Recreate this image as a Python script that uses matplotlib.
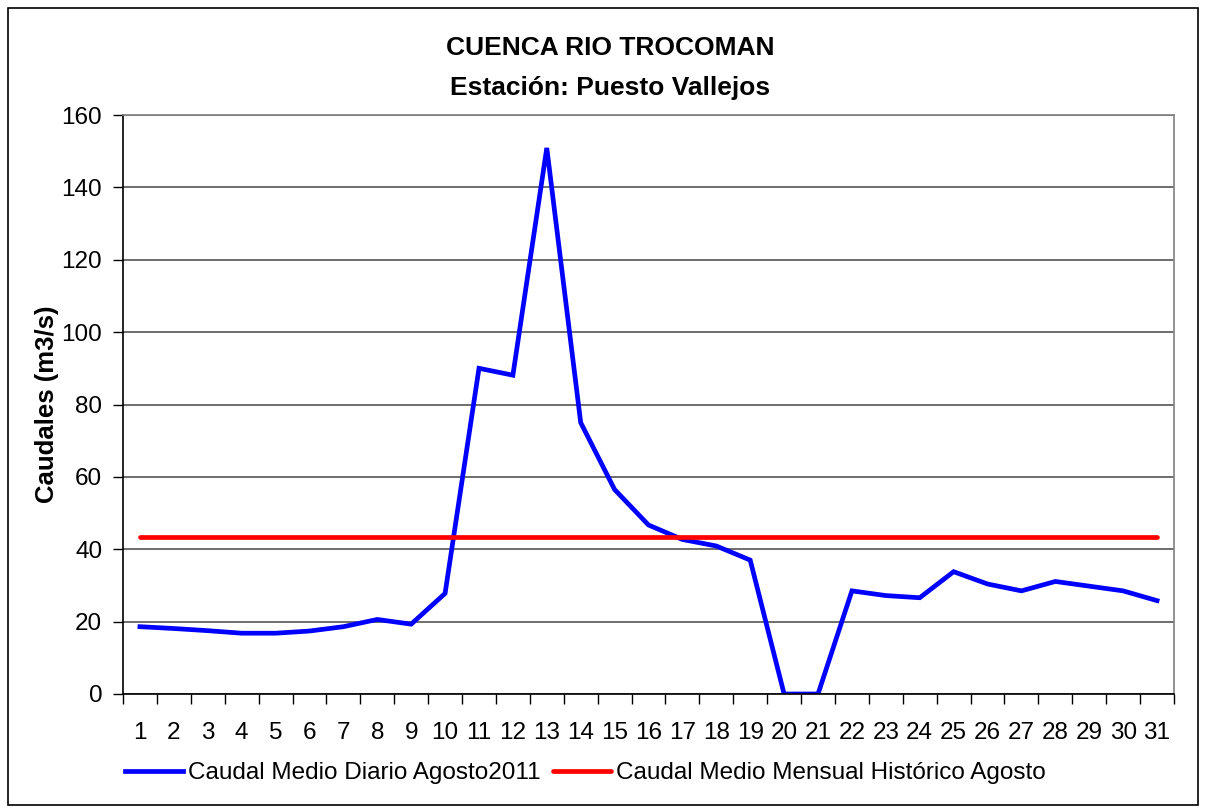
import matplotlib
matplotlib.use("Agg")
import matplotlib.pyplot as plt
from matplotlib.patches import Rectangle
import numpy as np

plt.rcParams['font.family'] = ['Liberation Sans', 'DejaVu Sans']

days = list(range(1, 32))
caudal_diario = [18.6, 18.1, 17.5, 16.8, 16.8, 17.4, 18.6, 20.6, 19.3, 27.8,
                 90.0, 88.1, 150.9, 75.0, 56.5, 46.7, 42.7, 40.9, 37.0, 0.0,
                 0.0, 28.5, 27.2, 26.6, 33.8, 30.4, 28.5, 31.1, 29.8, 28.5, 25.8]
caudal_historico = [43.5] * 31
yticks = [0, 20, 40, 60, 80, 100, 120, 140, 160]

fig = plt.figure(figsize=(12.05, 8.09), dpi=100)
fig.patches.append(Rectangle((8/1205, 4/809), 1190/1205, 797/809, transform=fig.transFigure,
                             fill=False, edgecolor='black', linewidth=1.2))
ax = fig.add_axes([123/1205, 1-694/809, (1174-123)/1205, (694-115)/809])

l1, = ax.plot(days, caudal_diario, color='#0000FF', linewidth=3.4,
              label='Caudal Medio Diario Agosto2011', solid_joinstyle='miter')
l2, = ax.plot(days, caudal_historico, color='#FF0000', linewidth=3.4,
              label='Caudal Medio Mensual Histórico Agosto', solid_capstyle='round')

ax.set_xlim(0.5, 31.5)
ax.set_ylim(0, 160)
ax.set_yticks(yticks)
ax.set_xticks(days)
ax.set_xticklabels([str(d) for d in days])
ax.set_xticks(np.arange(0.5, 32, 1), minor=True)
ax.tick_params(axis='x', which='major', length=0, labelsize=17.5, pad=20)
ax.tick_params(axis='x', which='minor', length=7, width=1, color='black')
ax.tick_params(axis='y', which='major', length=7, width=1, labelsize=17.5, pad=8)
ax.yaxis.grid(True, color='#555555', linewidth=1.2)
ax.set_axisbelow(True)
for s in ['left', 'bottom']:
    ax.spines[s].set_color('black')
    ax.spines[s].set_linewidth(1.2)
for s in ['top', 'right']:
    ax.spines[s].set_color('#808080')
    ax.spines[s].set_linewidth(1.2)

ax.set_ylabel('Caudales (m3/s)', fontsize=18.5, fontweight='bold', labelpad=2)
fig.text(610/1205, 1-48/809, 'CUENCA RIO TROCOMAN', ha='center', va='center',
         fontsize=19, fontweight='bold')
fig.text(610/1205, 1-88/809, 'Estación: Puesto Vallejos', ha='center', va='center',
         fontsize=19, fontweight='bold')

fig.legend(handles=[l1, l2], loc='center', bbox_to_anchor=(585/1205, 1-773/809),
           ncol=2, frameon=False, fontsize=17.5, handlelength=2.4, handletextpad=0.2,
           columnspacing=0.5)

fig.savefig('out.png', dpi=100)
